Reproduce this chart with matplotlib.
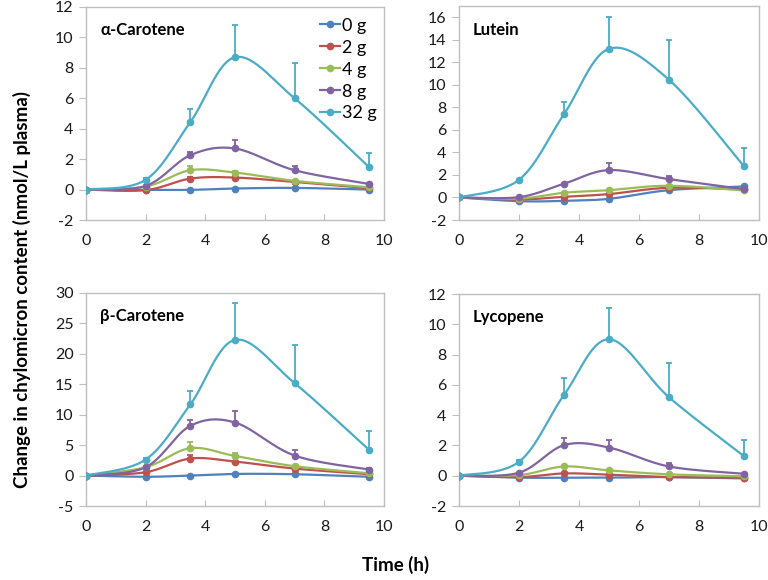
import numpy as np
import matplotlib.pyplot as plt
from matplotlib.lines import Line2D

plt.rcParams['font.family'] = ['Lato', 'DejaVu Sans']

times = [0, 2, 3.5, 5, 7, 9.5]
doses = ["0 g", "2 g", "4 g", "8 g", "32 g"]
colors = ["#4F81BD", "#C0504D", "#9BBB59", "#8064A2", "#4BACC6"]

# mean change per dose (rows follow doses)
alpha_mean = [
    [0, -0.02, -0.02, 0.07, 0.11, 0.0],
    [0, -0.04, 0.72, 0.79, 0.50, 0.09],
    [0, 0.20, 1.27, 1.12, 0.57, 0.15],
    [0, 0.24, 2.26, 2.70, 1.27, 0.37],
    [0, 0.64, 4.43, 8.70, 6.00, 1.47],
]
alpha_err = [
    [0, 0, 0, 0, 0, 0],
    [0, 0, 0.13, 0.10, 0, 0],
    [0, 0, 0.31, 0.13, 0, 0],
    [0, 0, 0.24, 0.57, 0.31, 0],
    [0, 0.10, 0.85, 2.13, 2.31, 0.96],
]

lutein_mean = [
    [0, -0.33, -0.30, -0.12, 0.65, 0.98],
    [0, -0.18, 0.06, 0.30, 0.86, 0.71],
    [0, -0.10, 0.42, 0.65, 1.04, 0.62],
    [0, 0.03, 1.22, 2.43, 1.63, 0.74],
    [0, 1.57, 7.39, 13.20, 10.45, 2.76],
]
lutein_err = [
    [0, 0, 0, 0, 0, 0],
    [0, 0, 0, 0, 0, 0],
    [0, 0, 0, 0, 0.10, 0],
    [0, 0, 0, 0.60, 0.27, 0],
    [0, 0, 1.11, 2.80, 3.50, 1.60],
]

beta_mean = [
    [0, -0.20, 0.0, 0.27, 0.22, -0.20],
    [0, 0.55, 2.80, 2.30, 1.15, 0.22],
    [0, 1.37, 4.50, 3.23, 1.54, 0.38],
    [0, 1.37, 8.17, 8.72, 3.29, 0.99],
    [0, 2.63, 11.68, 22.30, 15.19, 4.22],
]
beta_err = [
    [0, 0, 0, 0, 0, 0],
    [0, 0, 0.65, 0, 0, 0],
    [0, 0, 0.98, 0.47, 0, 0],
    [0, 0, 0.93, 1.88, 0.99, 0.30],
    [0, 0.30, 2.19, 6.00, 6.31, 3.08],
]

lyco_mean = [
    [0, -0.13, -0.13, -0.13, -0.09, -0.18],
    [0, -0.09, 0.15, 0.07, -0.09, -0.13],
    [0, 0.04, 0.61, 0.35, 0.09, -0.04],
    [0, 0.20, 2.02, 1.86, 0.61, 0.13],
    [0, 0.92, 5.33, 9.01, 5.18, 1.29],
]
lyco_err = [
    [0, 0, 0, 0, 0, 0],
    [0, 0, 0, 0, 0, 0],
    [0, 0, 0, 0, 0, 0],
    [0, 0, 0.48, 0.49, 0.22, 0],
    [0, 0.10, 1.12, 2.09, 2.28, 1.10],
]

panels = [
    ("\u03b1-Carotene", alpha_mean, alpha_err, (-2, 12), 2),
    ("Lutein", lutein_mean, lutein_err, (-2, 17), 2),
    ("\u03b2-Carotene", beta_mean, beta_err, (-5, 30), 5),
    ("Lycopene", lyco_mean, lyco_err, (-2, 12), 2),
]

# axes boxes in pixels: left, top, right, bottom
boxes = [(86, 7, 384, 220), (459, 6, 759, 220),
         (86, 293, 384, 506), (459, 294, 759, 506)]


def smooth(x, y, n=30):
    # Excel-style smoothed line (Catmull-Rom as cubic Bezier)
    x = np.asarray(x, float)
    y = np.asarray(y, float)
    px = np.concatenate([[x[0]], x, [x[-1]]])
    py = np.concatenate([[y[0]], y, [y[-1]]])
    t = np.linspace(0, 1, n)[:, None]
    xs, ys = [], []
    for i in range(1, len(px) - 2):
        p0 = np.array([px[i], py[i]])
        p3 = np.array([px[i + 1], py[i + 1]])
        p1 = p0 + (np.array([px[i + 1], py[i + 1]]) - np.array([px[i - 1], py[i - 1]])) / 6
        p2 = p3 - (np.array([px[i + 2], py[i + 2]]) - np.array([px[i], py[i]])) / 6
        pts = ((1 - t) ** 3 * p0 + 3 * (1 - t) ** 2 * t * p1
               + 3 * (1 - t) * t ** 2 * p2 + t ** 3 * p3)
        xs.extend(pts[:, 0])
        ys.extend(pts[:, 1])
    return xs, ys


fig = plt.figure(figsize=(7.68, 5.8), dpi=100)
W, H = 768, 580

for (title, means, errs, ylim, step), (l, t, r, b) in zip(panels, boxes):
    ax = fig.add_axes([l / W, 1 - b / H, (r - l) / W, (b - t) / H])
    for k in range(len(doses)):
        m = np.array(means[k])
        e = np.array(errs[k])
        c = colors[k]
        ax.errorbar(times, m, yerr=[np.zeros_like(e), e], fmt="none",
                    ecolor=c, elinewidth=1.3, capsize=2.5, capthick=1.3, zorder=2)
        sx, sy = smooth(times, m)
        ax.plot(sx, sy, color=c, lw=1.6, zorder=3)
        ax.plot(times, m, "o", color=c, ms=4.5, zorder=4)
    ax.set_xlim(0, 10)
    ax.set_ylim(*ylim)
    ax.set_xticks(range(0, 11, 2))
    yt = np.arange(ylim[0], ylim[1] + 0.01, step)
    ax.set_yticks(yt)
    ax.set_yticklabels([str(int(v)) for v in yt])
    for s in ax.spines.values():
        s.set_color("#BFBFBF")
        s.set_linewidth(1.0)
    ax.tick_params(axis="x", direction="in", length=4, color="#BFBFBF",
                   labelsize=11.5, pad=10, labelcolor="#1a1a1a")
    ax.tick_params(axis="y", direction="out", length=5, color="#BFBFBF",
                   labelsize=11.5, pad=4, labelcolor="#1a1a1a")
    ax.text(0.047, 0.89, title, transform=ax.transAxes, fontsize=12,
            fontweight="bold", va="center", ha="left")
    if title.startswith("\u03b1"):
        hs = [Line2D([], [], color=colors[i], lw=1.6, marker="o", ms=4.5)
              for i in range(len(doses))]
        ax.legend(hs, doses, loc="upper right", bbox_to_anchor=(0.975, 0.95),
                  frameon=False, fontsize=13, handlelength=1.1,
                  handletextpad=0.1, labelspacing=0.33, borderpad=0.0,
                  borderaxespad=0.0)

fig.text(22 / W, 0.5, "Change in chylomicron content (nmol/L plasma)",
         rotation=90, ha="center", va="center", fontsize=13.5, fontweight="bold")
fig.text(396 / W, 1 - 565 / H, "Time (h)", ha="center", va="center",
         fontsize=13.5, fontweight="bold")

fig.savefig("out.png", dpi=100)
